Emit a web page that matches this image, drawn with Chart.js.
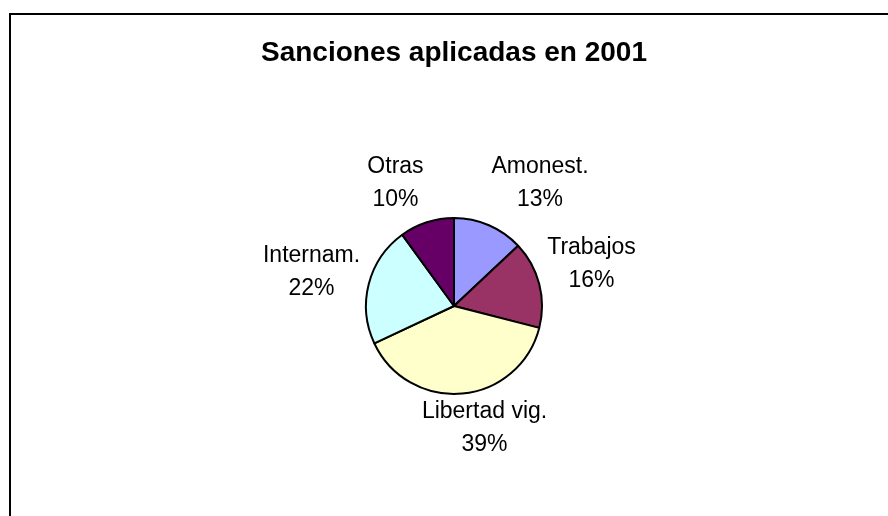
<!DOCTYPE html>
<html>
<head>
<meta charset="utf-8">
<script src="https://cdn.jsdelivr.net/npm/chart.js@4"></script>
<style>
  body { margin: 0; background: white; }
  #frame { position: absolute; left: 9px; top: 13px; width: 1000px; height: 700px; border: 2px solid black; }
  #wrap { position: absolute; left: 0; top: 0; width: 888px; height: 516px; }
</style>
</head>
<body>
<div id="frame"></div>
<div id="wrap"><canvas id="pie-chart" width="888" height="516"></canvas></div>
<script>
// datos del grafico
const categorias = ['Amonest.', 'Trabajos', 'Libertad vig.', 'Internam.', 'Otras'];
const porcentajes = [13, 16, 39, 22, 10];
const colores = ['#9999FF', '#993366', '#FFFFCC', '#CCFFFF', '#660066'];

// posicion de cada etiqueta respecto al centro, en radios (como Excel "mejor ajuste")
const posEtiquetas = [[0.977, -1.403], [1.5625, -0.477], [0.347, 1.386], [-1.619, -0.386], [-0.665, -1.398]];

const etiquetas = {
    id: 'etiquetas',
    afterDatasetsDraw(chart) {
        const ctx = chart.ctx;
        const arcs = chart.getDatasetMeta(0).data;
        ctx.save();
        ctx.font = '23px "Liberation Sans", Arial, sans-serif';
        ctx.fillStyle = 'black';
        ctx.textAlign = 'center';
        ctx.textBaseline = 'middle';
        arcs.forEach((arc, i) => {
            const r = arc.outerRadius;
            const x = arc.x + posEtiquetas[i][0] * r;
            const y = arc.y + posEtiquetas[i][1] * r + 0.5;
            ctx.fillText(categorias[i], x, y - 16.5);
            ctx.fillText(porcentajes[i] + '%', x, y + 16.5);
        });
        ctx.restore();
    }
};

new Chart(document.getElementById('pie-chart'), {
    type: 'pie',
    data: {
        labels: categorias,
        datasets: [{
            data: porcentajes,
            backgroundColor: colores,
            borderColor: 'black',
            borderWidth: 2,
            radius: 88
        }]
    },
    options: {
        responsive: false,
        animation: false,
        layout: { padding: { left: 20, top: 0, right: 0, bottom: 0 } },
        plugins: {
            legend: { display: false },
            tooltip: { enabled: false },
            title: {
                display: true,
                text: 'Sanciones aplicadas en 2001',
                color: 'black',
                font: { family: '"Liberation Sans", Arial, sans-serif', size: 28, weight: 'bold' },
                padding: { top: 36.7, bottom: 25.7 }
            }
        }
    },
    plugins: [etiquetas]
});
</script>
</body>
</html>
